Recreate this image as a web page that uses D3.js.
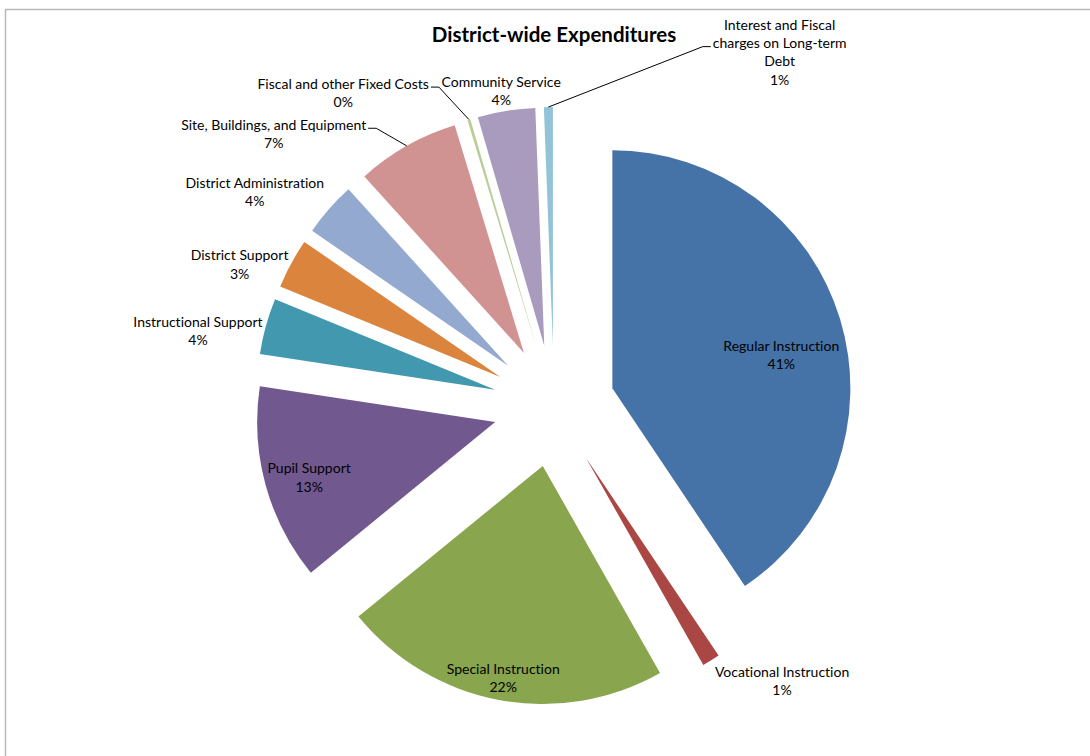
<!DOCTYPE html>
<html>
<head>
<meta charset="utf-8">
<script src="https://cdn.jsdelivr.net/npm/d3@7/dist/d3.min.js"></script>
<style>
  html, body { margin: 0; padding: 0; background: #ffffff; }
  svg { display: block; }
  text { font-family: Lato, "Open Sans", sans-serif; fill: #000; font-variant-ligatures: none; font-feature-settings: "liga" 0; }
</style>
</head>
<body>
<svg id="chart" width="1090" height="756"></svg>
<script>
// ---- data ----
const title = "District-wide Expenditures";
const categories = [
  "Regular Instruction",
  "Vocational Instruction",
  "Special Instruction",
  "Pupil Support",
  "Instructional Support",
  "District Support",
  "District Administration",
  "Site, Buildings, and Equipment",
  "Fiscal and other Fixed Costs",
  "Community  Service",
  "Interest and Fiscal\ncharges on Long-term\nDebt"
];
// share of total expenditures (percent)
const values = [40.6, 1.2, 22.3, 13.3, 3.8, 3.4, 3.7, 7.0, 0.2, 3.9, 0.6];
const colors = ["#4572A7", "#AA4643", "#89A54E", "#71588F", "#4198AF", "#DB843D",
                "#93A9CF", "#D19392", "#B9CD96", "#A99BBD", "#92C3D6"];

// ---- layout / style ----
const W = 1090, H = 756;
const cx = 554, cy = 406;      // pie centre
const R = 238;                 // slice radius
const explode = 61;            // explosion distance of every slice
// label block centre, polar from pie centre: [angle deg clockwise from 12 o'clock, distance px]
const labelLayout = [
  [77.3, 233], [140.3, 357], [190.6, 276], [253.8, 255], [282.0, 364],
  [294.3, 345], [305.6, 368], [314.2, 391], [326.1, 378], [350.5, 320], [32.5, 420]
];
const hasLeader = [false, false, false, false, false, false, false, true, true, false, true];
const lineH = 18.3;
const fontSize = 14;

const svg = d3.select("#chart");

// chart border
svg.append("rect")
  .attr("x", 5.5).attr("y", 9.5)
  .attr("width", W + 20).attr("height", H + 20)
  .attr("fill", "none").attr("stroke", "#b8b8b8").attr("stroke-width", 1.5);

// title
svg.append("text")
  .attr("x", cx).attr("y", 34)
  .attr("text-anchor", "middle").attr("dominant-baseline", "central")
  .style("font-size", "20.5px").style("font-weight", "700")
  .text(title);

const total = d3.sum(values);
const pct = d3.format(".0%");
const pie = d3.pie().sort(null).value(d => d).startAngle(0).endAngle(2 * Math.PI);
const arcs = pie(values);
const arc = d3.arc().innerRadius(0).outerRadius(R);

const polar = (ang, dist) => [dist * Math.sin(ang), -dist * Math.cos(ang)];

const g = svg.append("g").attr("transform", `translate(${cx},${cy})`);

arcs.forEach((a, i) => {
  const mid = (a.startAngle + a.endAngle) / 2;
  const [ox, oy] = polar(mid, explode);
  g.append("path")
    .attr("transform", `translate(${ox},${oy})`)
    .attr("d", arc(a))
    .attr("fill", colors[i]);
});

// labels
arcs.forEach((a, i) => {
  const mid = (a.startAngle + a.endAngle) / 2;
  const [lx, ly] = polar(labelLayout[i][0] * Math.PI / 180, labelLayout[i][1]);
  const lines = categories[i].split("\n").concat([pct(values[i] / total)]);
  const n = lines.length;
  const t = g.append("text")
    .attr("text-anchor", "middle")
    .style("font-size", fontSize + "px");
  const tspans = lines.map((s, k) =>
    t.append("tspan")
      .attr("x", lx)
      .attr("y", ly + (k - (n - 1) / 2) * lineH)
      .attr("dominant-baseline", "central")
      .text(s));

  if (hasLeader[i]) {
    // attach to the widest line of the label
    let best = 0, bw = 0;
    tspans.forEach((ts, k) => {
      const w = ts.node().getComputedTextLength();
      if (w > bw) { bw = w; best = k; }
    });
    const yLine = ly + (best - (n - 1) / 2) * lineH + 4;
    const [ox, oy] = polar(mid, explode);
    const [ex, ey] = polar(mid, R);
    const tx = ox + ex, ty = oy + ey;
    const side = tx > lx ? 1 : -1;
    const sx = lx + side * (bw / 2 + 2);
    const hx = sx + side * 8;
    g.append("path")
      .attr("d", `M${sx},${yLine}L${hx},${yLine}L${tx},${ty}`)
      .attr("fill", "none").attr("stroke", "#000").attr("stroke-width", 1);
  }
});
</script>
</body>
</html>
